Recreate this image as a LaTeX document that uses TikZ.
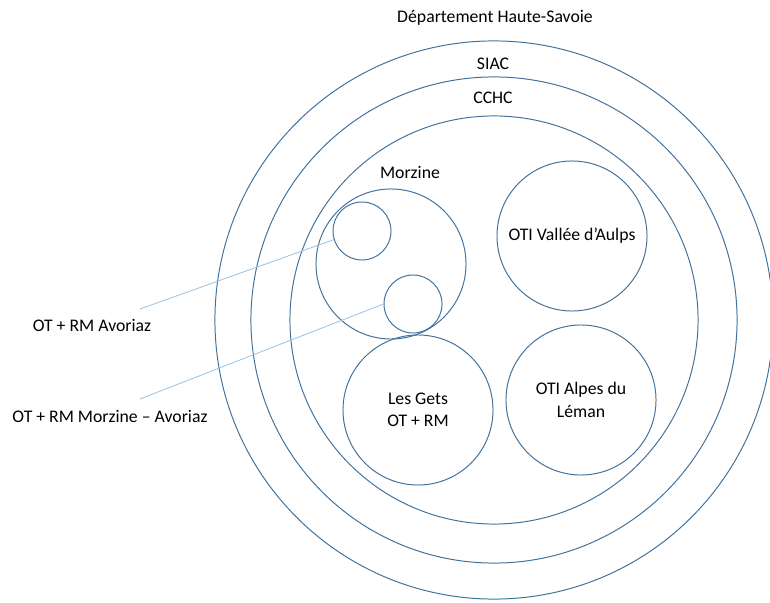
\documentclass[tikz,border=0pt]{standalone}
\usepackage{fontspec}
\setmainfont{Carlito}
\usepackage{tikz}
\usetikzlibrary{positioning}
\definecolor{ringblue}{RGB}{65,113,156}
\definecolor{leaderblue}{RGB}{157,195,230}
\tikzset{ring/.style={draw=ringblue,circle,line width=0.7pt,inner sep=0pt,text=black}}
\tikzset{leader/.style={draw=leaderblue,line width=0.6pt}}

\begin{document}
\begin{tikzpicture}[x=0.025cm,y=-0.025cm,font=\fontsize{12.6}{16}\selectfont]
      \useasboundingbox (0,0) rectangle (770,603);

      \node[ring,minimum size=13.95cm](dept) at (494,320) {};
      \node[ring,minimum size=12.15cm](siac) at (494,320) {};
      \node[ring,minimum size=10.2cm](cchc) at (494,320) {};

      \node(deptlbl) at (495,18) {Département Haute-Savoie};
      \node(siaclbl) at (493,64) {SIAC};
      \node(cchclbl) at (493,98) {CCHC};

      \node[ring,minimum size=3.75cm](morzine) at (391,264) {};
      \node(morzinelbl) at (410,172) {Morzine};
      \node[ring,minimum size=1.45cm](avoriaz) at (362,231) {};
      \node[ring,minimum size=1.45cm](mzavoriaz) at (413,304) {};

      \node[ring,minimum size=3.75cm](vallee) at (572,236) {OTI Vallée d’Aulps};
      \node[ring,minimum size=3.75cm,align=center](lesgets) at (418,410) {Les Gets\\OT + RM};
      \node[ring,minimum size=3.75cm,align=center](leman) at (581,400) {OTI Alpes du\\Léman};

      \node(avoriazlbl) at (92,325) {OT + RM Avoriaz};
      \node(mzavoriazlbl) at (110,416) {OT + RM Morzine – Avoriaz};

      \coordinate (avoriazend) at (140,309);
      \coordinate (mzavoriazend) at (140,399);
      \draw[leader] (avoriazend) -- (avoriaz.197);
      \draw[leader] (mzavoriazend) -- (mzavoriaz.west);
    \end{tikzpicture}
\end{document}
